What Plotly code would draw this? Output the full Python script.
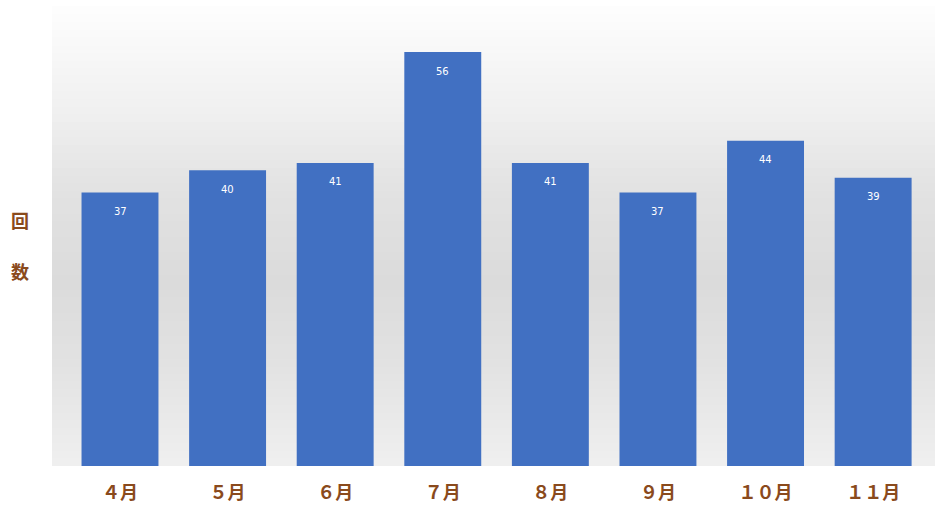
import plotly.graph_objects as go

months = ["４月", "５月", "６月", "７月", "８月", "９月", "１０月", "１１月"]
counts = [37, 40, 41, 56, 41, 37, 44, 39]

BAR = "#4170c2"
BROWN = "#8a4a1c"

fig = go.Figure()
fig.add_trace(go.Bar(
    x=list(range(len(months))), y=counts,
    width=0.715,
    marker=dict(color=BAR, line=dict(width=0)),
    text=[str(v) for v in counts],
    textposition="none",
    hoverinfo="skip",
))

for i, v in enumerate(counts):
    fig.add_annotation(x=i, y=v, yref="y", xref="x", text=str(v), showarrow=False,
                       yshift=-19, font=dict(color="white", size=10, family="DejaVu Sans"))

# background gradient: white top -> gray middle -> lighter bottom
stops = [(1.00, (253, 253, 253)), (0.80, (242, 242, 242)), (0.60, (226, 226, 226)),
         (0.40, (219, 219, 219)), (0.20, (227, 227, 227)), (0.00, (240, 240, 240))]
N = 60
for k in range(N):
    y0 = k / N
    y1 = (k + 1) / N
    ym = (y0 + y1) / 2
    for j in range(len(stops) - 1):
        a, ca = stops[j]
        b, cb = stops[j + 1]
        if b <= ym <= a:
            t = (a - ym) / (a - b)
            c = tuple(int(round(ca[m] + (cb[m] - ca[m]) * t)) for m in range(3))
            break
    fig.add_shape(type="rect", xref="paper", yref="paper", x0=0, x1=1, y0=y0, y1=y1 + 0.002,
                  fillcolor="rgb(%d,%d,%d)" % c, line=dict(width=0), layer="below")

fig.add_annotation(xref="paper", yref="paper", x=-0.036, y=0.536, text="回", showarrow=False,
                   xanchor="center", yanchor="middle",
                   font=dict(color=BROWN, size=18, family="Noto Sans CJK JP", weight="bold"))
fig.add_annotation(xref="paper", yref="paper", x=-0.036, y=0.425, text="数", showarrow=False,
                   xanchor="center", yanchor="middle",
                   font=dict(color=BROWN, size=18, family="Noto Sans CJK JP", weight="bold"))

fig.update_layout(
    width=935, height=512,
    margin=dict(l=52, r=0, t=7, b=46),
    paper_bgcolor="white", plot_bgcolor="white",
    showlegend=False,
    xaxis=dict(range=[-0.632, 7.575], tickmode="array", tickvals=list(range(len(months))),
               ticktext=months, showgrid=False, zeroline=False, showline=False,
               ticks="", ticklabelstandoff=14,
               tickfont=dict(color=BROWN, size=18, family="Noto Sans CJK JP", weight="bold")),
    yaxis=dict(range=[0, 62.1], showgrid=False, zeroline=False, showticklabels=False,
               showline=False, ticks=""),
)
fig.write_html("out.html")
